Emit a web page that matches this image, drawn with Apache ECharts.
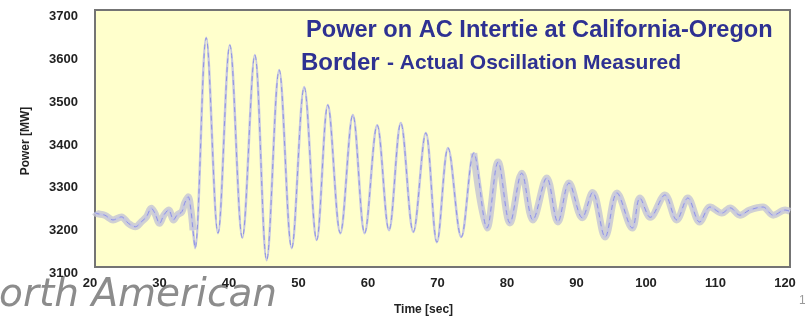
<!DOCTYPE html>
<html>
<head>
<meta charset="utf-8">
<script src="https://cdn.jsdelivr.net/npm/echarts@6/dist/echarts.min.js"></script>
<style>html,body{margin:0;padding:0;background:#fff;}#c{width:805px;height:316px;}</style>
</head>
<body>
<div id="c"></div>
<script>
// Time [sec] of read points
const timeSec = [
  20.0, 20.2, 21.4, 22.6, 23.8, 24.8, 25.8, 26.7, 27.4, 28.1, 28.6, 29.3, 29.9, 30.6, 31.3, 31.8, 32.5, 32.9, 33.4, 33.8, 34.1, 34.4,
  36.0, 37.7, 39.4, 41.2, 43.0, 44.7, 46.5, 48.3, 50.1, 51.9, 53.5, 55.3, 57.1, 58.8, 60.6, 62.3, 64.0, 65.8, 67.6, 69.2, 70.8, 72.7, 74.5, 76.4,
  78.0, 79.7, 81.4, 83.0, 85.0, 86.6, 88.2, 90.1, 91.6, 93.4, 95.1, 97.3, 98.4, 99.9, 102.0, 103.7, 105.3, 107.0,
  108.5, 110.2, 111.4, 112.8, 114.2, 116.1, 117.6, 119.3, 120.0
];
// Power [MW] at those times
const powerMW = [
  3228, 3225, 3221, 3210, 3217, 3202, 3194, 3206, 3217, 3237, 3226, 3202, 3221, 3233, 3210, 3221, 3229, 3249, 3264, 3233, 3186, 3144,
  3635, 3179, 3618, 3168, 3595, 3116, 3560, 3144, 3520, 3163, 3478, 3179, 3455, 3179, 3431, 3186, 3436, 3182, 3413, 3158, 3378, 3170, 3366, 3191,
  3345, 3203, 3319, 3210, 3308, 3205, 3296, 3215, 3274, 3170, 3273, 3191, 3261, 3216, 3268, 3210, 3261, 3205,
  3240, 3226, 3238, 3221, 3233, 3240, 3221, 3233, 3230
];
const xRange = [20, 120, 10];
const yRange = [3100, 3700, 100];
const titleLine1 = 'Power on AC Intertie at California-Oregon';
const titleLine2a = 'Border';
const titleLine2b = '- Actual Oscillation Measured';
const xName = 'Time [sec]';
const yName = 'Power [MW]';
const footerText = 'North American';

const pts = timeSec.map((t, i) => [t, powerMW[i]]);
const bandPts = timeSec.map((t, i) => (t <= 34.2 || t >= 74.5) ? [t, powerMW[i]] : [t, null]);

const chart = echarts.init(document.getElementById('c'), null, {renderer: 'canvas'});
const lab = {fontFamily: 'Liberation Sans, Arial, sans-serif', fontWeight: 'bold', fontSize: 13, color: '#222'};
chart.setOption({
  animation: false,
  backgroundColor: '#fff',
  grid: {left: 95, right: 15, top: 10, bottom: 49, containLabel: false, outerBoundsMode: 'none',
         show: true, backgroundColor: '#ffffcc', borderColor: '#747474', borderWidth: 2},
  xAxis: {
    type: 'value', min: xRange[0], max: xRange[1], interval: xRange[2],
    axisLine: {show: false}, axisTick: {show: false}, splitLine: {show: false},
    axisLabel: Object.assign({margin: 10, padding: [0, 10, 0, 0], formatter: v => String(v)}, lab),
    name: xName, nameLocation: 'middle', nameGap: 37,
    nameTextStyle: Object.assign({padding: [0, 38, 0, 0]}, lab, {fontSize: 12})
  },
  yAxis: {
    type: 'value', min: yRange[0], max: yRange[1], interval: yRange[2],
    axisLine: {show: false}, axisTick: {show: false}, splitLine: {show: false},
    axisLabel: Object.assign({margin: 17, verticalAlign: 'top', formatter: v => String(v)}, lab),
    name: yName, nameLocation: 'middle', nameGap: 63,
    nameTextStyle: Object.assign({padding: [0, 5, 0, 0]}, lab, {fontSize: 12})
  },
  series: [
    {type: 'line', data: bandPts, smooth: 0.35, symbol: 'none', connectNulls: false,
     lineStyle: {width: 7, color: 'rgba(196,196,212,0.8)', join: 'round'}, z: 2},
    {type: 'line', data: pts, smooth: 0.35, symbol: 'none',
     lineStyle: {width: 2.5, color: '#c6c7e2', join: 'round'}, z: 3},
    {type: 'line', data: pts, smooth: 0.35, symbol: 'none',
     lineStyle: {width: 1, color: '#9094e2', type: [5, 4]}, z: 4}
  ],
  graphic: [
    {type: 'text', left: 306, top: 18, style: {text: titleLine1, font: 'bold 23.6px "Liberation Sans", Arial, sans-serif', fill: '#2e3192'}},
    {type: 'text', left: 301, top: 51, style: {text: titleLine2a, font: 'bold 24px "Liberation Sans", Arial, sans-serif', fill: '#2e3192'}},
    {type: 'text', left: 387, top: 53, style: {text: titleLine2b, font: 'bold 21px "Liberation Sans", Arial, sans-serif', fill: '#2e3192'}},
    {type: 'text', right: 528, top: 276, style: {text: footerText, font: 'oblique 39px "DejaVu Sans", sans-serif', fill: '#8c8c8c'}},
    {type: 'text', left: 799, top: 295, style: {text: '1', font: '12px "Liberation Sans", sans-serif', fill: '#999'}}
  ]
});
</script>
</body>
</html>
